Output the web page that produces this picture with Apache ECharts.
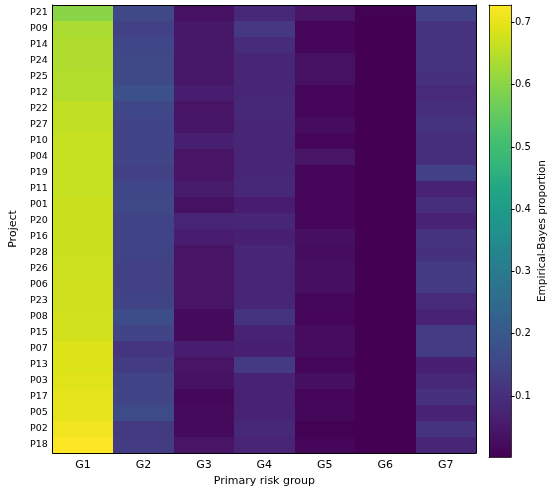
<!DOCTYPE html>
<html>
<head>
<meta charset="utf-8">
<script src="https://cdn.jsdelivr.net/npm/echarts@6/dist/echarts.min.js"></script>
<style>
  html, body { margin: 0; padding: 0; background: #fff; }
  #chart { width: 550px; height: 492px; }
</style>
</head>
<body>
<div id="chart"></div>
<script>
// rows top to bottom
var projects = ['P21','P09','P14','P24','P25','P12','P22','P27','P10','P04','P19','P11','P01','P20',
                'P16','P28','P26','P06','P23','P08','P15','P07','P13','P03','P17','P05','P02','P18'];
var groups = ['G1','G2','G3','G4','G5','G6','G7'];

// one array per risk group, same order as projects
var g1 = [0.600,0.635,0.640,0.640,0.645,0.645,0.660,0.660,0.665,0.665,0.665,0.665,0.670,0.670,
          0.670,0.670,0.672,0.675,0.675,0.677,0.678,0.688,0.690,0.692,0.700,0.703,0.712,0.728];
var g2 = [0.160,0.140,0.155,0.160,0.160,0.180,0.155,0.150,0.150,0.150,0.140,0.155,0.160,0.145,
          0.145,0.145,0.140,0.140,0.145,0.170,0.150,0.115,0.130,0.145,0.150,0.165,0.125,0.130];
var g3 = [0.035,0.050,0.050,0.050,0.050,0.060,0.040,0.045,0.065,0.040,0.040,0.055,0.035,0.075,
          0.060,0.040,0.040,0.040,0.040,0.020,0.020,0.060,0.040,0.035,0.015,0.020,0.020,0.040];
var g4 = [0.085,0.120,0.095,0.080,0.080,0.080,0.085,0.080,0.080,0.075,0.080,0.085,0.060,0.080,
          0.065,0.080,0.075,0.075,0.080,0.110,0.070,0.065,0.125,0.070,0.070,0.070,0.085,0.075];
var g5 = [0.040,0.010,0.010,0.035,0.035,0.012,0.012,0.025,0.010,0.040,0.012,0.012,0.012,0.012,
          0.030,0.025,0.030,0.030,0.015,0.010,0.025,0.025,0.015,0.030,0.010,0.015,0.005,0.010];
var g6 = [0.004,0.003,0.003,0.003,0.003,0.003,0.003,0.003,0.003,0.003,0.003,0.003,0.003,0.003,
          0.003,0.003,0.003,0.003,0.003,0.003,0.003,0.003,0.003,0.003,0.003,0.003,0.002,0.003];
var g7 = [0.140,0.110,0.110,0.110,0.105,0.090,0.100,0.110,0.100,0.100,0.140,0.070,0.100,0.070,
          0.110,0.105,0.125,0.125,0.090,0.070,0.130,0.130,0.065,0.085,0.105,0.070,0.110,0.080];

var colorbarTicks = [0.1, 0.2, 0.3, 0.4, 0.5, 0.6, 0.7];

var viridis = ['#440154','#471365','#482475','#46337f','#414487','#3b528b','#355f8d','#2f6c8e',
               '#2a788e','#25848e','#21918c','#1e9c89','#22a884','#35b779','#44bf70','#5ec962',
               '#7ad151','#9bd93c','#bddf26','#dfe318','#fde725'];

var columns = [g1, g2, g3, g4, g5, g6, g7];
var cells = [];
var all = [];
columns.forEach(function (col, x) {
    col.forEach(function (v, y) {
        cells.push([x, y, v]);
        all.push(v);
    });
});
var vmin = Math.min.apply(null, all);
var vmax = Math.max.apply(null, all);

var font = 'DejaVu Sans';

var chart = echarts.init(document.getElementById('chart'), null, { renderer: 'canvas' });

// cells drawn as rects snapped to whole pixels so no seams show between rows
function renderCell(params, api) {
    var c = api.coord([api.value(0), api.value(1)]);
    var s = api.size([1, 1]);
    var x0 = Math.round(c[0] - s[0] / 2), x1 = Math.round(c[0] + s[0] / 2);
    var y0 = Math.round(c[1] - s[1] / 2), y1 = Math.round(c[1] + s[1] / 2);
    return {
        type: 'rect',
        shape: { x: x0, y: y0, width: x1 - x0, height: y1 - y0 },
        style: { fill: api.visual('color'), stroke: null }
    };
}

chart.setOption({
    animation: false,
    textStyle: { fontFamily: font },
    grid: [
        { left: 41, top: 5, width: 435, height: 452 },
        { left: 489, top: 5, width: 22, height: 452 }
    ],
    xAxis: [
        {
            gridIndex: 0, type: 'category', data: groups, z: 5,
            name: 'Primary risk group', nameLocation: 'middle', nameGap: 23,
            nameTextStyle: { fontSize: 11, color: '#000', fontFamily: font },
            axisLine: { lineStyle: { color: '#000', width: 1 } },
            axisTick: { alignWithLabel: true, length: 3.5, lineStyle: { color: '#000' } },
            axisLabel: { fontSize: 11, color: '#000', margin: 7, fontFamily: font },
            splitLine: { show: false }
        },
        {
            gridIndex: 0, type: 'category', data: groups, position: 'top', z: 5,
            axisLine: { lineStyle: { color: '#000', width: 1 } },
            axisTick: { show: false }, axisLabel: { show: false }
        },
        {
            gridIndex: 1, type: 'category', data: ['cb'], z: 5,
            axisLine: { lineStyle: { color: '#000', width: 0.8 } },
            axisTick: { show: false }, axisLabel: { show: false }
        },
        {
            gridIndex: 1, type: 'category', data: ['cb'], position: 'top', z: 5,
            axisLine: { lineStyle: { color: '#000', width: 0.8 } },
            axisTick: { show: false }, axisLabel: { show: false }
        }
    ],
    yAxis: [
        {
            gridIndex: 0, type: 'category', data: projects, inverse: true, z: 5,
            name: 'Project', nameLocation: 'middle', nameGap: 32, nameRotate: 90,
            nameTextStyle: { fontSize: 11, color: '#000', fontFamily: font },
            axisLine: { lineStyle: { color: '#000', width: 1 } },
            axisTick: { alignWithLabel: true, length: 3.5, lineStyle: { color: '#000' } },
            axisLabel: { fontSize: 9.5, color: '#000', margin: 5, fontFamily: font },
            splitLine: { show: false }
        },
        {
            gridIndex: 0, type: 'category', data: projects, inverse: true, position: 'right', z: 5,
            axisLine: { lineStyle: { color: '#000', width: 1 } },
            axisTick: { show: false }, axisLabel: { show: false }
        },
        {
            gridIndex: 1, type: 'value', min: vmin, max: vmax, position: 'right', z: 5,
            name: 'Empirical-Bayes proportion', nameLocation: 'middle', nameGap: 26, nameRotate: 90,
            nameTextStyle: { fontSize: 10.5, color: '#000', fontFamily: font },
            axisLine: { show: true, lineStyle: { color: '#000', width: 0.8 } },
            axisTick: { show: true, length: 3.5, customValues: colorbarTicks, lineStyle: { color: '#000' } },
            axisLabel: { fontSize: 10, color: '#000', margin: 4, customValues: colorbarTicks,
                         fontFamily: font, formatter: function (v) { return v.toFixed(1); } },
            splitLine: { show: false }
        },
        {
            gridIndex: 1, type: 'value', min: vmin, max: vmax, position: 'left', z: 5,
            axisLine: { show: true, lineStyle: { color: '#000', width: 0.8 } },
            axisTick: { show: false }, axisLabel: { show: false }, splitLine: { show: false }
        }
    ],
    visualMap: {
        show: false,
        seriesIndex: 0,
        dimension: 2,
        min: vmin,
        max: vmax,
        inRange: { color: viridis }
    },
    series: [
        {
            type: 'custom',
            xAxisIndex: 0,
            yAxisIndex: 0,
            data: cells,
            encode: { x: 0, y: 1 },
            renderItem: renderCell,
            silent: true
        },
        {
            type: 'bar',
            xAxisIndex: 2,
            yAxisIndex: 2,
            barWidth: '100%',
            clip: true,
            data: [vmax],
            itemStyle: {
                color: new echarts.graphic.LinearGradient(0, 1, 0, 0, viridis.map(function (c, i) {
                    return { offset: i / (viridis.length - 1), color: c };
                }))
            },
            silent: true
        }
    ]
});
</script>
</body>
</html>
